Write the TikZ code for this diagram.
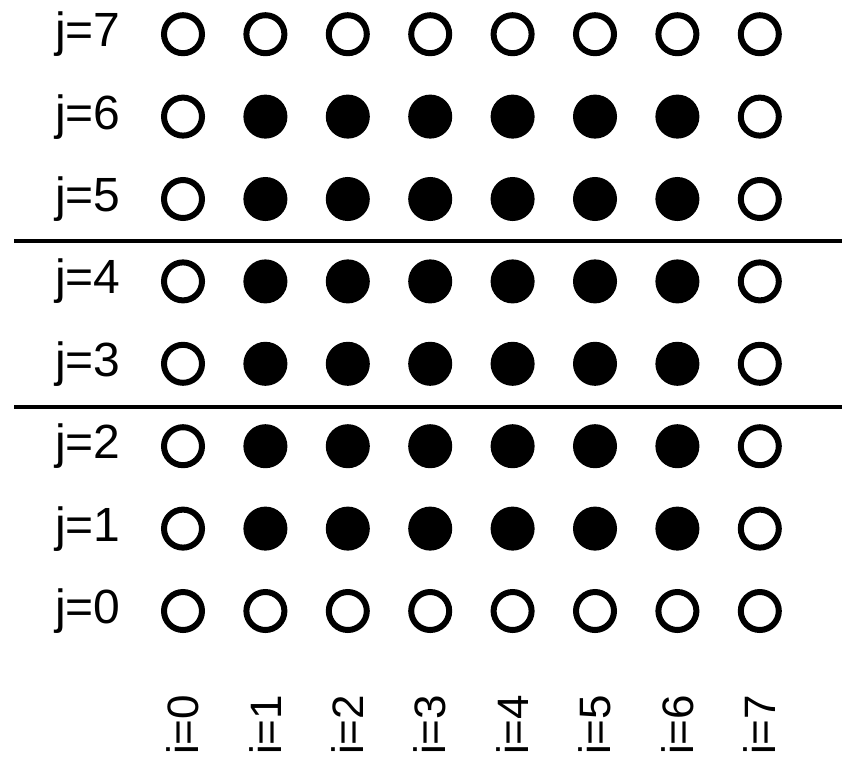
\documentclass[tikz,border=0pt]{standalone}
\usepackage{fontspec}
\setmainfont{Liberation Sans}
\begin{document}
\begin{tikzpicture}[x=1pt,y=-1pt,
  dot/.style={circle,draw=black,line width=6pt,minimum size=38pt,inner sep=0pt},
  hollow/.style={dot,fill=white},
  solid/.style={dot,fill=black},
  rowlab/.style={font=\fontsize{48}{48}\selectfont,inner sep=0pt,anchor=center},
  collab/.style={font=\fontsize{44}{44}\selectfont,inner sep=0pt,rotate=90,anchor=center},
  sep/.style={line width=3.5pt}]
\useasboundingbox (0,0) rectangle (842,761);
\foreach \j in {0,...,7}{
  \pgfmathsetmacro{\yy}{611-82.4*\j}
  \node[rowlab] (r\j) at (88,\yy) {j=\j};
  \foreach \i in {0,...,7}{
    \pgfmathsetmacro{\xx}{183+82.4*\i}
    \pgfmathtruncatemacro{\inner}{(\i>0)&&(\i<7)&&(\j>0)&&(\j<7)}
    \ifnum\inner=1
      \node[solid] (c\i-\j) at (\xx,\yy) {};
    \else
      \node[hollow] (c\i-\j) at (\xx,\yy) {};
    \fi
  }
}
\foreach \i in {0,...,7}{
  \pgfmathsetmacro{\xx}{183+82.4*\i}
  \node[collab] (l\i) at (\xx,725) {i=\i};
}
\coordinate (a1) at (14,241);
\coordinate (b1) at (842,241);
\coordinate (a2) at (14,407);
\coordinate (b2) at (842,407);
\draw[sep] (a1) -- (b1);
\draw[sep] (a2) -- (b2);
\end{tikzpicture}
\end{document}
